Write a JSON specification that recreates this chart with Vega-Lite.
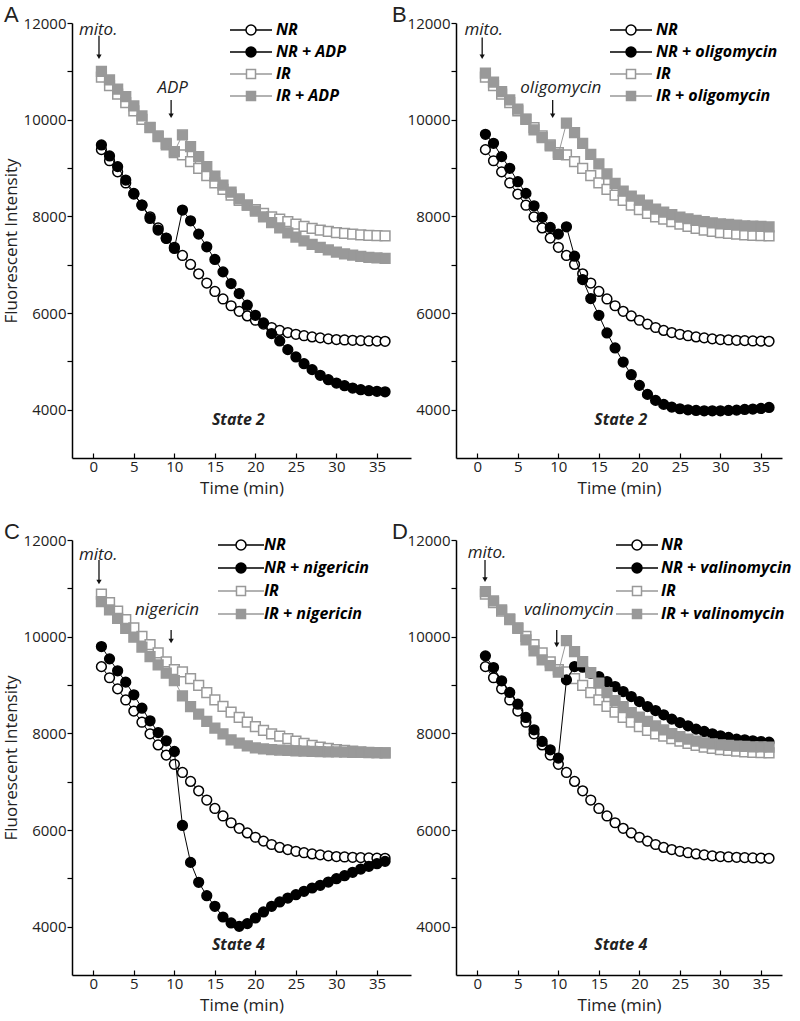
{
"$schema":"https://vega.github.io/schema/vega-lite/v6.json",
"background":"white",
"padding":{"left":2,"top":4,"right":0,"bottom":6},
"config":{"view":{"stroke":null},"font":"Open Sans",
"axis":{"domainColor":"#000","domainWidth":1.5,"tickColor":"#000","tickWidth":1.2,"grid":false,"labelFont":"Open Sans","labelFontSize":15,"labelColor":"#222","titleFont":"Open Sans","titleFontSize":17,"titleFontWeight":"normal","titleColor":"#222"},
"legend":{"labelLimit":300}},
"datasets":{
"ctrl":[
{"t":1,"s":"NR","v":9380},{"t":2,"s":"NR","v":9150},{"t":3,"s":"NR","v":8920},{"t":4,"s":"NR","v":8690},{"t":5,"s":"NR","v":8460},{"t":6,"s":"NR","v":8230},{"t":7,"s":"NR","v":7990},{"t":8,"s":"NR","v":7760},{"t":9,"s":"NR","v":7550},{"t":10,"s":"NR","v":7360},{"t":11,"s":"NR","v":7190},{"t":12,"s":"NR","v":7005},{"t":13,"s":"NR","v":6810},{"t":14,"s":"NR","v":6620},{"t":15,"s":"NR","v":6445},{"t":16,"s":"NR","v":6290},{"t":17,"s":"NR","v":6150},{"t":18,"s":"NR","v":6035},{"t":19,"s":"NR","v":5940},{"t":20,"s":"NR","v":5850},{"t":21,"s":"NR","v":5770},{"t":22,"s":"NR","v":5700},{"t":23,"s":"NR","v":5640},{"t":24,"s":"NR","v":5595},{"t":25,"s":"NR","v":5560},{"t":26,"s":"NR","v":5530},{"t":27,"s":"NR","v":5505},{"t":28,"s":"NR","v":5485},{"t":29,"s":"NR","v":5465},{"t":30,"s":"NR","v":5450},{"t":31,"s":"NR","v":5442},{"t":32,"s":"NR","v":5435},{"t":33,"s":"NR","v":5428},{"t":34,"s":"NR","v":5421},{"t":35,"s":"NR","v":5418},{"t":36,"s":"NR","v":5414},
{"t":1,"s":"IR","v":10880},{"t":2,"s":"IR","v":10705},{"t":3,"s":"IR","v":10530},{"t":4,"s":"IR","v":10355},{"t":5,"s":"IR","v":10180},{"t":6,"s":"IR","v":10005},{"t":7,"s":"IR","v":9835},{"t":8,"s":"IR","v":9665},{"t":9,"s":"IR","v":9480},{"t":10,"s":"IR","v":9320},{"t":11,"s":"IR","v":9270},{"t":12,"s":"IR","v":9130},{"t":13,"s":"IR","v":8990},{"t":14,"s":"IR","v":8840},{"t":15,"s":"IR","v":8690},{"t":16,"s":"IR","v":8560},{"t":17,"s":"IR","v":8440},{"t":18,"s":"IR","v":8330},{"t":19,"s":"IR","v":8230},{"t":20,"s":"IR","v":8140},{"t":21,"s":"IR","v":8060},{"t":22,"s":"IR","v":7990},{"t":23,"s":"IR","v":7940},{"t":24,"s":"IR","v":7890},{"t":25,"s":"IR","v":7840},{"t":26,"s":"IR","v":7790},{"t":27,"s":"IR","v":7750},{"t":28,"s":"IR","v":7715},{"t":29,"s":"IR","v":7690},{"t":30,"s":"IR","v":7665},{"t":31,"s":"IR","v":7645},{"t":32,"s":"IR","v":7630},{"t":33,"s":"IR","v":7618},{"t":34,"s":"IR","v":7608},{"t":35,"s":"IR","v":7600},{"t":36,"s":"IR","v":7596}],
"A":[
{"t":1,"s":"NR + ADP","v":9477},{"t":2,"s":"NR + ADP","v":9249},{"t":3,"s":"NR + ADP","v":9028},{"t":4,"s":"NR + ADP","v":8751},{"t":5,"s":"NR + ADP","v":8475},{"t":6,"s":"NR + ADP","v":8233},{"t":7,"s":"NR + ADP","v":7957},{"t":8,"s":"NR + ADP","v":7715},{"t":9,"s":"NR + ADP","v":7542},{"t":10,"s":"NR + ADP","v":7335},{"t":11,"s":"NR + ADP","v":8130},{"t":12,"s":"NR + ADP","v":7908},{"t":13,"s":"NR + ADP","v":7632},{"t":14,"s":"NR + ADP","v":7370},{"t":15,"s":"NR + ADP","v":7107},{"t":16,"s":"NR + ADP","v":6851},{"t":17,"s":"NR + ADP","v":6610},{"t":18,"s":"NR + ADP","v":6403},{"t":19,"s":"NR + ADP","v":6161},{"t":20,"s":"NR + ADP","v":5953},{"t":21,"s":"NR + ADP","v":5794},{"t":22,"s":"NR + ADP","v":5573},{"t":23,"s":"NR + ADP","v":5421},{"t":24,"s":"NR + ADP","v":5242},{"t":25,"s":"NR + ADP","v":5090},{"t":26,"s":"NR + ADP","v":4952},{"t":27,"s":"NR + ADP","v":4828},{"t":28,"s":"NR + ADP","v":4710},{"t":29,"s":"NR + ADP","v":4620},{"t":30,"s":"NR + ADP","v":4551},{"t":31,"s":"NR + ADP","v":4496},{"t":32,"s":"NR + ADP","v":4448},{"t":33,"s":"NR + ADP","v":4413},{"t":34,"s":"NR + ADP","v":4392},{"t":35,"s":"NR + ADP","v":4379},{"t":36,"s":"NR + ADP","v":4370},
{"t":1,"s":"IR + ADP","v":10997},{"t":2,"s":"IR + ADP","v":10824},{"t":3,"s":"IR + ADP","v":10631},{"t":4,"s":"IR + ADP","v":10479},{"t":5,"s":"IR + ADP","v":10285},{"t":6,"s":"IR + ADP","v":10078},{"t":7,"s":"IR + ADP","v":9843},{"t":8,"s":"IR + ADP","v":9649},{"t":9,"s":"IR + ADP","v":9511},{"t":10,"s":"IR + ADP","v":9338},{"t":11,"s":"IR + ADP","v":9684},{"t":12,"s":"IR + ADP","v":9442},{"t":13,"s":"IR + ADP","v":9235},{"t":14,"s":"IR + ADP","v":9028},{"t":15,"s":"IR + ADP","v":8834},{"t":16,"s":"IR + ADP","v":8648},{"t":17,"s":"IR + ADP","v":8500},{"t":18,"s":"IR + ADP","v":8360},{"t":19,"s":"IR + ADP","v":8230},{"t":20,"s":"IR + ADP","v":8110},{"t":21,"s":"IR + ADP","v":7990},{"t":22,"s":"IR + ADP","v":7870},{"t":23,"s":"IR + ADP","v":7760},{"t":24,"s":"IR + ADP","v":7660},{"t":25,"s":"IR + ADP","v":7570},{"t":26,"s":"IR + ADP","v":7490},{"t":27,"s":"IR + ADP","v":7420},{"t":28,"s":"IR + ADP","v":7360},{"t":29,"s":"IR + ADP","v":7305},{"t":30,"s":"IR + ADP","v":7260},{"t":31,"s":"IR + ADP","v":7225},{"t":32,"s":"IR + ADP","v":7195},{"t":33,"s":"IR + ADP","v":7170},{"t":34,"s":"IR + ADP","v":7150},{"t":35,"s":"IR + ADP","v":7140},{"t":36,"s":"IR + ADP","v":7130}],
"B":[
{"t":1,"s":"NR + oligomycin","v":9698},{"t":2,"s":"NR + oligomycin","v":9511},{"t":3,"s":"NR + oligomycin","v":9235},{"t":4,"s":"NR + oligomycin","v":8993},{"t":5,"s":"NR + oligomycin","v":8717},{"t":6,"s":"NR + oligomycin","v":8475},{"t":7,"s":"NR + oligomycin","v":8219},{"t":8,"s":"NR + oligomycin","v":7978},{"t":9,"s":"NR + oligomycin","v":7771},{"t":10,"s":"NR + oligomycin","v":7632},{"t":11,"s":"NR + oligomycin","v":7784},{"t":12,"s":"NR + oligomycin","v":7176},{"t":13,"s":"NR + oligomycin","v":6693},{"t":14,"s":"NR + oligomycin","v":6299},{"t":15,"s":"NR + oligomycin","v":5953},{"t":16,"s":"NR + oligomycin","v":5587},{"t":17,"s":"NR + oligomycin","v":5276},{"t":18,"s":"NR + oligomycin","v":4986},{"t":19,"s":"NR + oligomycin","v":4724},{"t":20,"s":"NR + oligomycin","v":4503},{"t":21,"s":"NR + oligomycin","v":4316},{"t":22,"s":"NR + oligomycin","v":4192},{"t":23,"s":"NR + oligomycin","v":4109},{"t":24,"s":"NR + oligomycin","v":4053},{"t":25,"s":"NR + oligomycin","v":4019},{"t":26,"s":"NR + oligomycin","v":3998},{"t":27,"s":"NR + oligomycin","v":3984},{"t":28,"s":"NR + oligomycin","v":3977},{"t":29,"s":"NR + oligomycin","v":3977},{"t":30,"s":"NR + oligomycin","v":3977},{"t":31,"s":"NR + oligomycin","v":3984},{"t":32,"s":"NR + oligomycin","v":3991},{"t":33,"s":"NR + oligomycin","v":4005},{"t":34,"s":"NR + oligomycin","v":4012},{"t":35,"s":"NR + oligomycin","v":4026},{"t":36,"s":"NR + oligomycin","v":4046},
{"t":1,"s":"IR + oligomycin","v":10962},{"t":2,"s":"IR + oligomycin","v":10776},{"t":3,"s":"IR + oligomycin","v":10582},{"t":4,"s":"IR + oligomycin","v":10409},{"t":5,"s":"IR + oligomycin","v":10216},{"t":6,"s":"IR + oligomycin","v":10009},{"t":7,"s":"IR + oligomycin","v":9788},{"t":8,"s":"IR + oligomycin","v":9629},{"t":9,"s":"IR + oligomycin","v":9456},{"t":10,"s":"IR + oligomycin","v":9283},{"t":11,"s":"IR + oligomycin","v":9926},{"t":12,"s":"IR + oligomycin","v":9732},{"t":13,"s":"IR + oligomycin","v":9511},{"t":14,"s":"IR + oligomycin","v":9283},{"t":15,"s":"IR + oligomycin","v":9083},{"t":16,"s":"IR + oligomycin","v":8876},{"t":17,"s":"IR + oligomycin","v":8682},{"t":18,"s":"IR + oligomycin","v":8523},{"t":19,"s":"IR + oligomycin","v":8420},{"t":20,"s":"IR + oligomycin","v":8337},{"t":21,"s":"IR + oligomycin","v":8233},{"t":22,"s":"IR + oligomycin","v":8150},{"t":23,"s":"IR + oligomycin","v":8088},{"t":24,"s":"IR + oligomycin","v":8033},{"t":25,"s":"IR + oligomycin","v":7984},{"t":26,"s":"IR + oligomycin","v":7950},{"t":27,"s":"IR + oligomycin","v":7915},{"t":28,"s":"IR + oligomycin","v":7888},{"t":29,"s":"IR + oligomycin","v":7867},{"t":30,"s":"IR + oligomycin","v":7846},{"t":31,"s":"IR + oligomycin","v":7832},{"t":32,"s":"IR + oligomycin","v":7819},{"t":33,"s":"IR + oligomycin","v":7805},{"t":34,"s":"IR + oligomycin","v":7798},{"t":35,"s":"IR + oligomycin","v":7791},{"t":36,"s":"IR + oligomycin","v":7784}],
"C":[
{"t":1,"s":"NR + nigericin","v":9796},{"t":2,"s":"NR + nigericin","v":9541},{"t":3,"s":"NR + nigericin","v":9293},{"t":4,"s":"NR + nigericin","v":9059},{"t":5,"s":"NR + nigericin","v":8797},{"t":6,"s":"NR + nigericin","v":8521},{"t":7,"s":"NR + nigericin","v":8259},{"t":8,"s":"NR + nigericin","v":8017},{"t":9,"s":"NR + nigericin","v":7845},{"t":10,"s":"NR + nigericin","v":7625},{"t":11,"s":"NR + nigericin","v":6095},{"t":12,"s":"NR + nigericin","v":5330},{"t":13,"s":"NR + nigericin","v":4917},{"t":14,"s":"NR + nigericin","v":4641},{"t":15,"s":"NR + nigericin","v":4421},{"t":16,"s":"NR + nigericin","v":4200},{"t":17,"s":"NR + nigericin","v":4076},{"t":18,"s":"NR + nigericin","v":4007},{"t":19,"s":"NR + nigericin","v":4063},{"t":20,"s":"NR + nigericin","v":4180},{"t":21,"s":"NR + nigericin","v":4304},{"t":22,"s":"NR + nigericin","v":4421},{"t":23,"s":"NR + nigericin","v":4511},{"t":24,"s":"NR + nigericin","v":4593},{"t":25,"s":"NR + nigericin","v":4662},{"t":26,"s":"NR + nigericin","v":4731},{"t":27,"s":"NR + nigericin","v":4800},{"t":28,"s":"NR + nigericin","v":4855},{"t":29,"s":"NR + nigericin","v":4924},{"t":30,"s":"NR + nigericin","v":4993},{"t":31,"s":"NR + nigericin","v":5055},{"t":32,"s":"NR + nigericin","v":5124},{"t":33,"s":"NR + nigericin","v":5193},{"t":34,"s":"NR + nigericin","v":5248},{"t":35,"s":"NR + nigericin","v":5303},{"t":36,"s":"NR + nigericin","v":5351},
{"t":1,"s":"IR + nigericin","v":10725},{"t":2,"s":"IR + nigericin","v":10553},{"t":3,"s":"IR + nigericin","v":10381},{"t":4,"s":"IR + nigericin","v":10174},{"t":5,"s":"IR + nigericin","v":9988},{"t":6,"s":"IR + nigericin","v":9782},{"t":7,"s":"IR + nigericin","v":9589},{"t":8,"s":"IR + nigericin","v":9417},{"t":9,"s":"IR + nigericin","v":9244},{"t":10,"s":"IR + nigericin","v":9093},{"t":11,"s":"IR + nigericin","v":8776},{"t":12,"s":"IR + nigericin","v":8555},{"t":13,"s":"IR + nigericin","v":8397},{"t":14,"s":"IR + nigericin","v":8245},{"t":15,"s":"IR + nigericin","v":8107},{"t":16,"s":"IR + nigericin","v":7990},{"t":17,"s":"IR + nigericin","v":7866},{"t":18,"s":"IR + nigericin","v":7797},{"t":19,"s":"IR + nigericin","v":7740},{"t":20,"s":"IR + nigericin","v":7700},{"t":21,"s":"IR + nigericin","v":7680},{"t":22,"s":"IR + nigericin","v":7665},{"t":23,"s":"IR + nigericin","v":7655},{"t":24,"s":"IR + nigericin","v":7645},{"t":25,"s":"IR + nigericin","v":7638},{"t":26,"s":"IR + nigericin","v":7632},{"t":27,"s":"IR + nigericin","v":7627},{"t":28,"s":"IR + nigericin","v":7622},{"t":29,"s":"IR + nigericin","v":7618},{"t":30,"s":"IR + nigericin","v":7614},{"t":31,"s":"IR + nigericin","v":7610},{"t":32,"s":"IR + nigericin","v":7607},{"t":33,"s":"IR + nigericin","v":7604},{"t":34,"s":"IR + nigericin","v":7602},{"t":35,"s":"IR + nigericin","v":7600},{"t":36,"s":"IR + nigericin","v":7598}],
"D":[
{"t":1,"s":"NR + valinomycin","v":9603},{"t":2,"s":"NR + valinomycin","v":9361},{"t":3,"s":"NR + valinomycin","v":9086},{"t":4,"s":"NR + valinomycin","v":8845},{"t":5,"s":"NR + valinomycin","v":8603},{"t":6,"s":"NR + valinomycin","v":8328},{"t":7,"s":"NR + valinomycin","v":8073},{"t":8,"s":"NR + valinomycin","v":7832},{"t":9,"s":"NR + valinomycin","v":7659},{"t":10,"s":"NR + valinomycin","v":7487},{"t":11,"s":"NR + valinomycin","v":9106},{"t":12,"s":"NR + valinomycin","v":9382},{"t":13,"s":"NR + valinomycin","v":9369},{"t":14,"s":"NR + valinomycin","v":9245},{"t":15,"s":"NR + valinomycin","v":9175},{"t":16,"s":"NR + valinomycin","v":9072},{"t":17,"s":"NR + valinomycin","v":8968},{"t":18,"s":"NR + valinomycin","v":8865},{"t":19,"s":"NR + valinomycin","v":8761},{"t":20,"s":"NR + valinomycin","v":8658},{"t":21,"s":"NR + valinomycin","v":8555},{"t":22,"s":"NR + valinomycin","v":8472},{"t":23,"s":"NR + valinomycin","v":8383},{"t":24,"s":"NR + valinomycin","v":8294},{"t":25,"s":"NR + valinomycin","v":8224},{"t":26,"s":"NR + valinomycin","v":8155},{"t":27,"s":"NR + valinomycin","v":8087},{"t":28,"s":"NR + valinomycin","v":8038},{"t":29,"s":"NR + valinomycin","v":7990},{"t":30,"s":"NR + valinomycin","v":7949},{"t":31,"s":"NR + valinomycin","v":7914},{"t":32,"s":"NR + valinomycin","v":7880},{"t":33,"s":"NR + valinomycin","v":7866},{"t":34,"s":"NR + valinomycin","v":7845},{"t":35,"s":"NR + valinomycin","v":7831},{"t":36,"s":"NR + valinomycin","v":7818},
{"t":1,"s":"IR + valinomycin","v":10932},{"t":2,"s":"IR + valinomycin","v":10740},{"t":3,"s":"IR + valinomycin","v":10553},{"t":4,"s":"IR + valinomycin","v":10367},{"t":5,"s":"IR + valinomycin","v":10174},{"t":6,"s":"IR + valinomycin","v":9933},{"t":7,"s":"IR + valinomycin","v":9706},{"t":8,"s":"IR + valinomycin","v":9520},{"t":9,"s":"IR + valinomycin","v":9402},{"t":10,"s":"IR + valinomycin","v":9265},{"t":11,"s":"IR + valinomycin","v":9919},{"t":12,"s":"IR + valinomycin","v":9692},{"t":13,"s":"IR + valinomycin","v":9485},{"t":14,"s":"IR + valinomycin","v":9257},{"t":15,"s":"IR + valinomycin","v":9038},{"t":16,"s":"IR + valinomycin","v":8844},{"t":17,"s":"IR + valinomycin","v":8679},{"t":18,"s":"IR + valinomycin","v":8555},{"t":19,"s":"IR + valinomycin","v":8431},{"t":20,"s":"IR + valinomycin","v":8335},{"t":21,"s":"IR + valinomycin","v":8245},{"t":22,"s":"IR + valinomycin","v":8155},{"t":23,"s":"IR + valinomycin","v":8070},{"t":24,"s":"IR + valinomycin","v":7995},{"t":25,"s":"IR + valinomycin","v":7930},{"t":26,"s":"IR + valinomycin","v":7880},{"t":27,"s":"IR + valinomycin","v":7840},{"t":28,"s":"IR + valinomycin","v":7805},{"t":29,"s":"IR + valinomycin","v":7780},{"t":30,"s":"IR + valinomycin","v":7763},{"t":31,"s":"IR + valinomycin","v":7749},{"t":32,"s":"IR + valinomycin","v":7735},{"t":33,"s":"IR + valinomycin","v":7728},{"t":34,"s":"IR + valinomycin","v":7721},{"t":35,"s":"IR + valinomycin","v":7718},{"t":36,"s":"IR + valinomycin","v":7715}]
},
"columns":2,
"bounds":"flush",
"spacing":{"column":45,"row":82},
"resolve":{"scale":{"color":"independent","stroke":"independent","fill":"independent","shape":"independent"},"legend":{"color":"independent","stroke":"independent","fill":"independent","shape":"independent"}},
"concat":[
{"width":339,"height":435,
"title":{"text":"A","anchor":"start","frame":"bounds","fontSize":22,"fontWeight":"normal","font":"Liberation Sans","color":"#222","offset":-11,"dx":2},
"layer":[
{"data":{"name":"ctrl"},"mark":{"type":"line","strokeWidth":1},"encoding":{
"x":{"field":"t","type":"quantitative","scale":{"domain":[-2.63,39.2],"nice":false,"zero":false},"axis":{"title":"Time (min)","values":[0,2.5,5,7.5,10,12.5,15,17.5,20,22.5,25,27.5,30,32.5,35,37.5],"labelExpr":"datum.value % 5 === 0 ? datum.label : ''","tickSize":-5,"labelPadding":6,"titlePadding":6,"labelOverlap":false,"labelFlush":false}},
"y":{"field":"v","type":"quantitative","scale":{"domain":[3000,12000],"nice":false,"zero":false},"axis":{"title":"Fluorescent Intensity","values":[4000,5000,6000,7000,8000,9000,10000,11000,12000],"format":"d","labelExpr":"datum.value % 2000 === 0 ? datum.label : ''","tickSize":5,"labelPadding":1,"titlePadding":3,"labelOverlap":false,"labelFlush":false}},
"color":{"field":"s","type":"nominal","scale":{"domain":["NR","IR","NR + ADP","IR + ADP"],"range":["#000","#999","#000","#999"]},"legend":null}}},
{"data":{"name":"ctrl"},"mark":{"type":"point","filled":true,"size":95,"strokeWidth":1.5,"opacity":1},"encoding":{
"x":{"field":"t","type":"quantitative"},"y":{"field":"v","type":"quantitative"},
"stroke":{"field":"s","type":"nominal","scale":{"domain":["NR","NR + ADP","IR","IR + ADP"],"range":["#000","#000","#999","#999"]},"legend":{"title":null,"orient":"none","legendX":171,"legendY":-1,"padding":0,"symbolSize":100,"symbolStrokeWidth":1.5,"labelFont":"Open Sans","labelFontSize":16,"labelFontStyle":"italic","labelFontWeight":"bold","labelColor":"#000","labelOffset":17,"rowPadding":6}},
"fill":{"field":"s","type":"nominal","scale":{"domain":["NR","NR + ADP","IR","IR + ADP"],"range":["#fff","#000","#fff","#999"]},"legend":{"title":null,"orient":"none","legendX":171,"legendY":-1,"padding":0,"symbolSize":100,"symbolStrokeWidth":1.5,"labelFont":"Open Sans","labelFontSize":16,"labelFontStyle":"italic","labelFontWeight":"bold","labelColor":"#000","labelOffset":17,"rowPadding":6}},
"shape":{"condition":{"test":"indexof(datum.s, 'NR') === 0","value":"circle"},"value":"square"}}},
{"data":{"name":"A"},"mark":{"type":"line","strokeWidth":1},"encoding":{
"x":{"field":"t","type":"quantitative"},"y":{"field":"v","type":"quantitative"},
"color":{"field":"s","type":"nominal","scale":{"domain":["NR","IR","NR + ADP","IR + ADP"],"range":["#000","#999","#000","#999"]},"legend":null}}},
{"data":{"name":"A"},"mark":{"type":"point","filled":true,"size":95,"strokeWidth":1.5,"opacity":1},"encoding":{
"x":{"field":"t","type":"quantitative"},"y":{"field":"v","type":"quantitative"},
"stroke":{"field":"s","type":"nominal","scale":{"domain":["NR","NR + ADP","IR","IR + ADP"],"range":["#000","#000","#999","#999"]}},
"fill":{"field":"s","type":"nominal","scale":{"domain":["NR","NR + ADP","IR","IR + ADP"],"range":["#fff","#000","#fff","#999"]}},
"shape":{"condition":{"test":"indexof(datum.s, 'NR') === 0","value":"circle"},"value":"square"}}},
{"data":{"name":"ctrl"},"transform":[{"filter":"false"}],"mark":{"type":"point","filled":true,"opacity":1},"encoding":{
"x":{"field":"t","type":"quantitative"},"y":{"field":"v","type":"quantitative"},
"shape":{"field":"s","type":"nominal","scale":{"domain":["NR","NR + ADP","IR","IR + ADP"],"range":["M-4.2,0L-1.05,0M1.05,0L4.2,0M-1,0A1,1,0,1,1,1,0A1,1,0,1,1,-1,0Z","M-4.2,0L-1.05,0M1.05,0L4.2,0M-1,0A1,1,0,1,1,1,0A1,1,0,1,1,-1,0Z","M-4.2,0L-0.9,0M0.9,0L4.2,0M-0.9,-0.9L0.9,-0.9L0.9,0.9L-0.9,0.9Z","M-4.2,0L-0.9,0M0.9,0L4.2,0M-0.9,-0.9L0.9,-0.9L0.9,0.9L-0.9,0.9Z"]},"legend":{"title":null,"orient":"none","legendX":171,"legendY":-1,"padding":0,"symbolSize":100,"symbolStrokeWidth":1.5,"labelFont":"Open Sans","labelFontSize":16,"labelFontStyle":"italic","labelFontWeight":"bold","labelColor":"#000","labelOffset":17,"rowPadding":6}}}},
{"data":{"values":[{}]},"mark":{"type":"text","font":"Open Sans","fontStyle":"italic","fontSize":17,"color":"#222"},"encoding":{"x":{"datum":0.6},"y":{"datum":11860},"text":{"value":"mito."}}},
{"data":{"values":[{}]},"mark":{"type":"rule","color":"#111","strokeWidth":1.3},"encoding":{"x":{"datum":0.7},"y":{"datum":11736},"y2":{"datum":11330}}},
{"data":{"values":[{}]},"mark":{"type":"point","shape":"triangle-down","filled":true,"size":28,"color":"#111","opacity":1},"encoding":{"x":{"datum":0.7},"y":{"datum":11300}}},
{"data":{"values":[{}]},"mark":{"type":"text","font":"Open Sans","fontStyle":"italic","fontSize":17,"color":"#222"},"encoding":{"x":{"datum":9.8},"y":{"datum":10658},"text":{"value":"ADP"}}},
{"data":{"values":[{}]},"mark":{"type":"rule","color":"#111","strokeWidth":1.3},"encoding":{"x":{"datum":9.6},"y":{"datum":10409},"y2":{"datum":10110}}},
{"data":{"values":[{}]},"mark":{"type":"point","shape":"triangle-down","filled":true,"size":28,"color":"#111","opacity":1},"encoding":{"x":{"datum":9.6},"y":{"datum":10080}}},
{"data":{"values":[{}]},"mark":{"type":"text","font":"Open Sans","fontStyle":"italic","fontWeight":"bold","fontSize":16,"color":"#222"},"encoding":{"x":{"datum":17.9},"y":{"datum":3777},"text":{"value":"State 2"}}}
]},
{"width":326,"height":435,
"title":{"text":"B","anchor":"start","frame":"bounds","fontSize":22,"fontWeight":"normal","font":"Liberation Sans","color":"#222","offset":-11,"dx":-15},
"layer":[
{"data":{"name":"ctrl"},"mark":{"type":"line","strokeWidth":1},"encoding":{
"x":{"field":"t","type":"quantitative","scale":{"domain":[-2.63,37.6],"nice":false,"zero":false},"axis":{"title":"Time (min)","values":[0,2.5,5,7.5,10,12.5,15,17.5,20,22.5,25,27.5,30,32.5,35,37.5],"labelExpr":"datum.value % 5 === 0 ? datum.label : ''","tickSize":-5,"labelPadding":6,"titlePadding":6,"labelOverlap":false,"labelFlush":false}},
"y":{"field":"v","type":"quantitative","scale":{"domain":[3000,12000],"nice":false,"zero":false},"axis":{"title":null,"values":[4000,5000,6000,7000,8000,9000,10000,11000,12000],"format":"d","labelExpr":"datum.value % 2000 === 0 ? datum.label : ''","tickSize":5,"labelPadding":1,"labelOverlap":false,"labelFlush":false}},
"color":{"field":"s","type":"nominal","scale":{"domain":["NR","IR","NR + oligomycin","IR + oligomycin"],"range":["#000","#999","#000","#999"]},"legend":null}}},
{"data":{"name":"ctrl"},"mark":{"type":"point","filled":true,"size":95,"strokeWidth":1.5,"opacity":1},"encoding":{
"x":{"field":"t","type":"quantitative"},"y":{"field":"v","type":"quantitative"},
"stroke":{"field":"s","type":"nominal","scale":{"domain":["NR","NR + oligomycin","IR","IR + oligomycin"],"range":["#000","#000","#999","#999"]},"legend":{"title":null,"orient":"none","legendX":167,"legendY":-1,"padding":0,"symbolSize":100,"symbolStrokeWidth":1.5,"labelFont":"Open Sans","labelFontSize":16,"labelFontStyle":"italic","labelFontWeight":"bold","labelColor":"#000","labelOffset":17,"rowPadding":6}},
"fill":{"field":"s","type":"nominal","scale":{"domain":["NR","NR + oligomycin","IR","IR + oligomycin"],"range":["#fff","#000","#fff","#999"]},"legend":{"title":null,"orient":"none","legendX":167,"legendY":-1,"padding":0,"symbolSize":100,"symbolStrokeWidth":1.5,"labelFont":"Open Sans","labelFontSize":16,"labelFontStyle":"italic","labelFontWeight":"bold","labelColor":"#000","labelOffset":17,"rowPadding":6}},
"shape":{"condition":{"test":"indexof(datum.s, 'NR') === 0","value":"circle"},"value":"square"}}},
{"data":{"name":"B"},"mark":{"type":"line","strokeWidth":1},"encoding":{
"x":{"field":"t","type":"quantitative"},"y":{"field":"v","type":"quantitative"},
"color":{"field":"s","type":"nominal","scale":{"domain":["NR","IR","NR + oligomycin","IR + oligomycin"],"range":["#000","#999","#000","#999"]},"legend":null}}},
{"data":{"name":"B"},"mark":{"type":"point","filled":true,"size":95,"strokeWidth":1.5,"opacity":1},"encoding":{
"x":{"field":"t","type":"quantitative"},"y":{"field":"v","type":"quantitative"},
"stroke":{"field":"s","type":"nominal","scale":{"domain":["NR","NR + oligomycin","IR","IR + oligomycin"],"range":["#000","#000","#999","#999"]}},
"fill":{"field":"s","type":"nominal","scale":{"domain":["NR","NR + oligomycin","IR","IR + oligomycin"],"range":["#fff","#000","#fff","#999"]}},
"shape":{"condition":{"test":"indexof(datum.s, 'NR') === 0","value":"circle"},"value":"square"}}},
{"data":{"name":"ctrl"},"transform":[{"filter":"false"}],"mark":{"type":"point","filled":true,"opacity":1},"encoding":{
"x":{"field":"t","type":"quantitative"},"y":{"field":"v","type":"quantitative"},
"shape":{"field":"s","type":"nominal","scale":{"domain":["NR","NR + oligomycin","IR","IR + oligomycin"],"range":["M-4.2,0L-1.05,0M1.05,0L4.2,0M-1,0A1,1,0,1,1,1,0A1,1,0,1,1,-1,0Z","M-4.2,0L-1.05,0M1.05,0L4.2,0M-1,0A1,1,0,1,1,1,0A1,1,0,1,1,-1,0Z","M-4.2,0L-0.9,0M0.9,0L4.2,0M-0.9,-0.9L0.9,-0.9L0.9,0.9L-0.9,0.9Z","M-4.2,0L-0.9,0M0.9,0L4.2,0M-0.9,-0.9L0.9,-0.9L0.9,0.9L-0.9,0.9Z"]},"legend":{"title":null,"orient":"none","legendX":167,"legendY":-1,"padding":0,"symbolSize":100,"symbolStrokeWidth":1.5,"labelFont":"Open Sans","labelFontSize":16,"labelFontStyle":"italic","labelFontWeight":"bold","labelColor":"#000","labelOffset":17,"rowPadding":6}}}},
{"data":{"values":[{}]},"mark":{"type":"text","font":"Open Sans","fontStyle":"italic","fontSize":17,"color":"#222"},"encoding":{"x":{"datum":0.8},"y":{"datum":11860},"text":{"value":"mito."}}},
{"data":{"values":[{}]},"mark":{"type":"rule","color":"#111","strokeWidth":1.3},"encoding":{"x":{"datum":0.6},"y":{"datum":11700},"y2":{"datum":11330}}},
{"data":{"values":[{}]},"mark":{"type":"point","shape":"triangle-down","filled":true,"size":28,"color":"#111","opacity":1},"encoding":{"x":{"datum":0.6},"y":{"datum":11300}}},
{"data":{"values":[{}]},"mark":{"type":"text","font":"Open Sans","fontStyle":"italic","fontSize":17,"color":"#222"},"encoding":{"x":{"datum":10.3},"y":{"datum":10658},"text":{"value":"oligomycin"}}},
{"data":{"values":[{}]},"mark":{"type":"rule","color":"#111","strokeWidth":1.3},"encoding":{"x":{"datum":9.3},"y":{"datum":10409},"y2":{"datum":10110}}},
{"data":{"values":[{}]},"mark":{"type":"point","shape":"triangle-down","filled":true,"size":28,"color":"#111","opacity":1},"encoding":{"x":{"datum":9.3},"y":{"datum":10080}}},
{"data":{"values":[{}]},"mark":{"type":"text","font":"Open Sans","fontStyle":"italic","fontWeight":"bold","fontSize":16,"color":"#222"},"encoding":{"x":{"datum":17.7},"y":{"datum":3777},"text":{"value":"State 2"}}}
]},
{"width":339,"height":435,
"title":{"text":"C","anchor":"start","frame":"bounds","fontSize":22,"fontWeight":"normal","font":"Liberation Sans","color":"#222","offset":-11,"dx":2},
"layer":[
{"data":{"name":"ctrl"},"mark":{"type":"line","strokeWidth":1},"encoding":{
"x":{"field":"t","type":"quantitative","scale":{"domain":[-2.63,39.2],"nice":false,"zero":false},"axis":{"title":"Time (min)","values":[0,2.5,5,7.5,10,12.5,15,17.5,20,22.5,25,27.5,30,32.5,35,37.5],"labelExpr":"datum.value % 5 === 0 ? datum.label : ''","tickSize":-5,"labelPadding":6,"titlePadding":6,"labelOverlap":false,"labelFlush":false}},
"y":{"field":"v","type":"quantitative","scale":{"domain":[3000,12000],"nice":false,"zero":false},"axis":{"title":"Fluorescent Intensity","values":[4000,5000,6000,7000,8000,9000,10000,11000,12000],"format":"d","labelExpr":"datum.value % 2000 === 0 ? datum.label : ''","tickSize":5,"labelPadding":1,"titlePadding":3,"labelOverlap":false,"labelFlush":false}},
"color":{"field":"s","type":"nominal","scale":{"domain":["NR","IR","NR + nigericin","IR + nigericin"],"range":["#000","#999","#000","#999"]},"legend":null}}},
{"data":{"name":"ctrl"},"mark":{"type":"point","filled":true,"size":95,"strokeWidth":1.5,"opacity":1},"encoding":{
"x":{"field":"t","type":"quantitative"},"y":{"field":"v","type":"quantitative"},
"stroke":{"field":"s","type":"nominal","scale":{"domain":["NR","NR + nigericin","IR","IR + nigericin"],"range":["#000","#000","#999","#999"]},"legend":{"title":null,"orient":"none","legendX":161,"legendY":-3,"padding":0,"symbolSize":100,"symbolStrokeWidth":1.5,"labelFont":"Open Sans","labelFontSize":16,"labelFontStyle":"italic","labelFontWeight":"bold","labelColor":"#000","labelOffset":15,"rowPadding":7}},
"fill":{"field":"s","type":"nominal","scale":{"domain":["NR","NR + nigericin","IR","IR + nigericin"],"range":["#fff","#000","#fff","#999"]},"legend":{"title":null,"orient":"none","legendX":161,"legendY":-3,"padding":0,"symbolSize":100,"symbolStrokeWidth":1.5,"labelFont":"Open Sans","labelFontSize":16,"labelFontStyle":"italic","labelFontWeight":"bold","labelColor":"#000","labelOffset":15,"rowPadding":7}},
"shape":{"condition":{"test":"indexof(datum.s, 'NR') === 0","value":"circle"},"value":"square"}}},
{"data":{"name":"C"},"mark":{"type":"line","strokeWidth":1},"encoding":{
"x":{"field":"t","type":"quantitative"},"y":{"field":"v","type":"quantitative"},
"color":{"field":"s","type":"nominal","scale":{"domain":["NR","IR","NR + nigericin","IR + nigericin"],"range":["#000","#999","#000","#999"]},"legend":null}}},
{"data":{"name":"C"},"mark":{"type":"point","filled":true,"size":95,"strokeWidth":1.5,"opacity":1},"encoding":{
"x":{"field":"t","type":"quantitative"},"y":{"field":"v","type":"quantitative"},
"stroke":{"field":"s","type":"nominal","scale":{"domain":["NR","NR + nigericin","IR","IR + nigericin"],"range":["#000","#000","#999","#999"]}},
"fill":{"field":"s","type":"nominal","scale":{"domain":["NR","NR + nigericin","IR","IR + nigericin"],"range":["#fff","#000","#fff","#999"]}},
"shape":{"condition":{"test":"indexof(datum.s, 'NR') === 0","value":"circle"},"value":"square"}}},
{"data":{"name":"ctrl"},"transform":[{"filter":"false"}],"mark":{"type":"point","filled":true,"opacity":1},"encoding":{
"x":{"field":"t","type":"quantitative"},"y":{"field":"v","type":"quantitative"},
"shape":{"field":"s","type":"nominal","scale":{"domain":["NR","NR + nigericin","IR","IR + nigericin"],"range":["M-4.6,0L-1.05,0M1.05,0L4.6,0M-1,0A1,1,0,1,1,1,0A1,1,0,1,1,-1,0Z","M-4.6,0L-1.05,0M1.05,0L4.6,0M-1,0A1,1,0,1,1,1,0A1,1,0,1,1,-1,0Z","M-4.6,0L-0.9,0M0.9,0L4.6,0M-0.9,-0.9L0.9,-0.9L0.9,0.9L-0.9,0.9Z","M-4.6,0L-0.9,0M0.9,0L4.6,0M-0.9,-0.9L0.9,-0.9L0.9,0.9L-0.9,0.9Z"]},"legend":{"title":null,"orient":"none","legendX":161,"legendY":-3,"padding":0,"symbolSize":100,"symbolStrokeWidth":1.5,"labelFont":"Open Sans","labelFontSize":16,"labelFontStyle":"italic","labelFontWeight":"bold","labelColor":"#000","labelOffset":15,"rowPadding":7}}}},
{"data":{"values":[{}]},"mark":{"type":"text","font":"Open Sans","fontStyle":"italic","fontSize":17,"color":"#222"},"encoding":{"x":{"datum":0.6},"y":{"datum":11690},"text":{"value":"mito."}}},
{"data":{"values":[{}]},"mark":{"type":"rule","color":"#111","strokeWidth":1.3},"encoding":{"x":{"datum":0.7},"y":{"datum":11587},"y2":{"datum":11160}}},
{"data":{"values":[{}]},"mark":{"type":"point","shape":"triangle-down","filled":true,"size":28,"color":"#111","opacity":1},"encoding":{"x":{"datum":0.7},"y":{"datum":11130}}},
{"data":{"values":[{}]},"mark":{"type":"text","font":"Open Sans","fontStyle":"italic","fontSize":17,"color":"#222"},"encoding":{"x":{"datum":9.1},"y":{"datum":10553},"text":{"value":"nigericin"}}},
{"data":{"values":[{}]},"mark":{"type":"rule","color":"#111","strokeWidth":1.3},"encoding":{"x":{"datum":9.6},"y":{"datum":10140},"y2":{"datum":9940}}},
{"data":{"values":[{}]},"mark":{"type":"point","shape":"triangle-down","filled":true,"size":28,"color":"#111","opacity":1},"encoding":{"x":{"datum":9.6},"y":{"datum":9910}}},
{"data":{"values":[{}]},"mark":{"type":"text","font":"Open Sans","fontStyle":"italic","fontWeight":"bold","fontSize":16,"color":"#222"},"encoding":{"x":{"datum":17.9},"y":{"datum":3628},"text":{"value":"State 4"}}}
]},
{"width":326,"height":435,
"title":{"text":"D","anchor":"start","frame":"bounds","fontSize":22,"fontWeight":"normal","font":"Liberation Sans","color":"#222","offset":-11,"dx":-15},
"layer":[
{"data":{"name":"ctrl"},"mark":{"type":"line","strokeWidth":1},"encoding":{
"x":{"field":"t","type":"quantitative","scale":{"domain":[-2.63,37.6],"nice":false,"zero":false},"axis":{"title":"Time (min)","values":[0,2.5,5,7.5,10,12.5,15,17.5,20,22.5,25,27.5,30,32.5,35,37.5],"labelExpr":"datum.value % 5 === 0 ? datum.label : ''","tickSize":-5,"labelPadding":6,"titlePadding":6,"labelOverlap":false,"labelFlush":false}},
"y":{"field":"v","type":"quantitative","scale":{"domain":[3000,12000],"nice":false,"zero":false},"axis":{"title":null,"values":[4000,5000,6000,7000,8000,9000,10000,11000,12000],"format":"d","labelExpr":"datum.value % 2000 === 0 ? datum.label : ''","tickSize":5,"labelPadding":1,"labelOverlap":false,"labelFlush":false}},
"color":{"field":"s","type":"nominal","scale":{"domain":["NR","IR","NR + valinomycin","IR + valinomycin"],"range":["#000","#999","#000","#999"]},"legend":null}}},
{"data":{"name":"ctrl"},"mark":{"type":"point","filled":true,"size":95,"strokeWidth":1.5,"opacity":1},"encoding":{
"x":{"field":"t","type":"quantitative"},"y":{"field":"v","type":"quantitative"},
"stroke":{"field":"s","type":"nominal","scale":{"domain":["NR","NR + valinomycin","IR","IR + valinomycin"],"range":["#000","#000","#999","#999"]},"legend":{"title":null,"orient":"none","legendX":173,"legendY":-3,"padding":0,"symbolSize":100,"symbolStrokeWidth":1.5,"labelFont":"Open Sans","labelFontSize":16,"labelFontStyle":"italic","labelFontWeight":"bold","labelColor":"#000","labelOffset":16,"rowPadding":7}},
"fill":{"field":"s","type":"nominal","scale":{"domain":["NR","NR + valinomycin","IR","IR + valinomycin"],"range":["#fff","#000","#fff","#999"]},"legend":{"title":null,"orient":"none","legendX":173,"legendY":-3,"padding":0,"symbolSize":100,"symbolStrokeWidth":1.5,"labelFont":"Open Sans","labelFontSize":16,"labelFontStyle":"italic","labelFontWeight":"bold","labelColor":"#000","labelOffset":16,"rowPadding":7}},
"shape":{"condition":{"test":"indexof(datum.s, 'NR') === 0","value":"circle"},"value":"square"}}},
{"data":{"name":"D"},"mark":{"type":"line","strokeWidth":1},"encoding":{
"x":{"field":"t","type":"quantitative"},"y":{"field":"v","type":"quantitative"},
"color":{"field":"s","type":"nominal","scale":{"domain":["NR","IR","NR + valinomycin","IR + valinomycin"],"range":["#000","#999","#000","#999"]},"legend":null}}},
{"data":{"name":"D"},"mark":{"type":"point","filled":true,"size":95,"strokeWidth":1.5,"opacity":1},"encoding":{
"x":{"field":"t","type":"quantitative"},"y":{"field":"v","type":"quantitative"},
"stroke":{"field":"s","type":"nominal","scale":{"domain":["NR","NR + valinomycin","IR","IR + valinomycin"],"range":["#000","#000","#999","#999"]}},
"fill":{"field":"s","type":"nominal","scale":{"domain":["NR","NR + valinomycin","IR","IR + valinomycin"],"range":["#fff","#000","#fff","#999"]}},
"shape":{"condition":{"test":"indexof(datum.s, 'NR') === 0","value":"circle"},"value":"square"}}},
{"data":{"name":"ctrl"},"transform":[{"filter":"false"}],"mark":{"type":"point","filled":true,"opacity":1},"encoding":{
"x":{"field":"t","type":"quantitative"},"y":{"field":"v","type":"quantitative"},
"shape":{"field":"s","type":"nominal","scale":{"domain":["NR","NR + valinomycin","IR","IR + valinomycin"],"range":["M-4.2,0L-1.05,0M1.05,0L4.2,0M-1,0A1,1,0,1,1,1,0A1,1,0,1,1,-1,0Z","M-4.2,0L-1.05,0M1.05,0L4.2,0M-1,0A1,1,0,1,1,1,0A1,1,0,1,1,-1,0Z","M-4.2,0L-0.9,0M0.9,0L4.2,0M-0.9,-0.9L0.9,-0.9L0.9,0.9L-0.9,0.9Z","M-4.2,0L-0.9,0M0.9,0L4.2,0M-0.9,-0.9L0.9,-0.9L0.9,0.9L-0.9,0.9Z"]},"legend":{"title":null,"orient":"none","legendX":173,"legendY":-3,"padding":0,"symbolSize":100,"symbolStrokeWidth":1.5,"labelFont":"Open Sans","labelFontSize":16,"labelFontStyle":"italic","labelFontWeight":"bold","labelColor":"#000","labelOffset":16,"rowPadding":7}}}},
{"data":{"values":[{}]},"mark":{"type":"text","font":"Open Sans","fontStyle":"italic","fontSize":17,"color":"#222"},"encoding":{"x":{"datum":1.2},"y":{"datum":11732},"text":{"value":"mito."}}},
{"data":{"values":[{}]},"mark":{"type":"rule","color":"#111","strokeWidth":1.3},"encoding":{"x":{"datum":0.95},"y":{"datum":11587},"y2":{"datum":11210}}},
{"data":{"values":[{}]},"mark":{"type":"point","shape":"triangle-down","filled":true,"size":28,"color":"#111","opacity":1},"encoding":{"x":{"datum":0.95},"y":{"datum":11180}}},
{"data":{"values":[{}]},"mark":{"type":"text","font":"Open Sans","fontStyle":"italic","fontSize":17,"color":"#222"},"encoding":{"x":{"datum":11.3},"y":{"datum":10553},"text":{"value":"valinomycin"}}},
{"data":{"values":[{}]},"mark":{"type":"rule","color":"#111","strokeWidth":1.3},"encoding":{"x":{"datum":9.8},"y":{"datum":10140},"y2":{"datum":9860}}},
{"data":{"values":[{}]},"mark":{"type":"point","shape":"triangle-down","filled":true,"size":28,"color":"#111","opacity":1},"encoding":{"x":{"datum":9.8},"y":{"datum":9830}}},
{"data":{"values":[{}]},"mark":{"type":"text","font":"Open Sans","fontStyle":"italic","fontWeight":"bold","fontSize":16,"color":"#222"},"encoding":{"x":{"datum":17.7},"y":{"datum":3628},"text":{"value":"State 4"}}}
]}
]
}
